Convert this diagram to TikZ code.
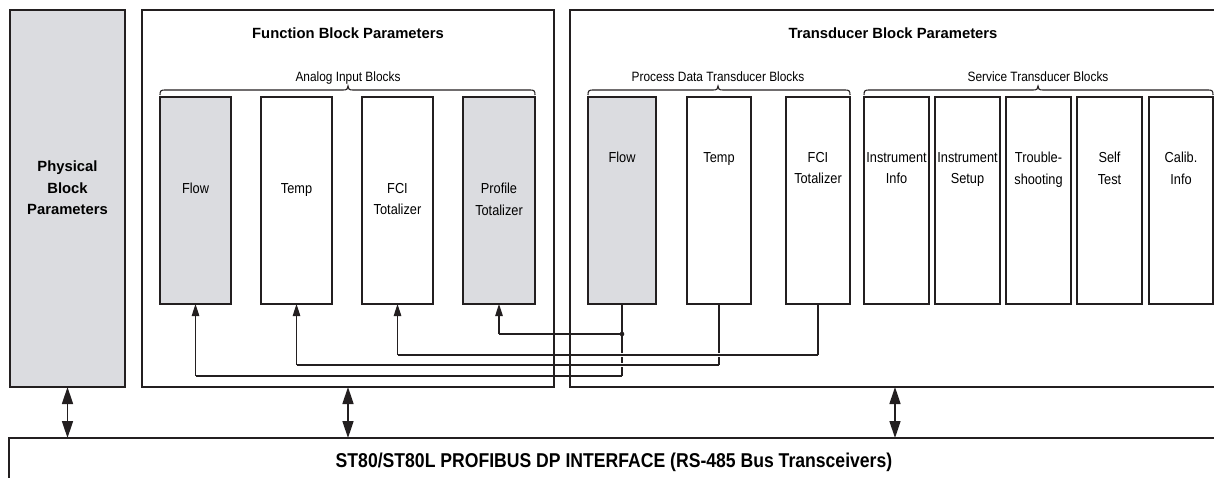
\documentclass[tikz,border=0pt]{standalone}
\usepackage{fontspec}
\setmainfont{Liberation Sans}
\newfontfamily\narrowfont{Liberation Sans}[FakeStretch=0.88]
\usetikzlibrary{arrows.meta,calc}
\definecolor{blockgray}{RGB}{219,220,224}
\definecolor{ink}{RGB}{35,31,32}
\newcommand{\tp}{\rule{0pt}{10pt}}
\newcommand{\hbrace}[3]{\draw[braceline] (#1,95) .. controls (#1,90.5) and (#1+1,90) .. (#1+5,90) -- (#2-5,90) .. controls (#2-1,90) and (#2,89) .. (#2,86) .. controls (#2,89) and (#2+1,90) .. (#2+5,90) -- (#3-5,90) .. controls (#3-1,90) and (#3,90.5) .. (#3,95);}
\begin{document}
\begin{tikzpicture}[x=1pt,y=-1pt,
  frame/.style={draw=ink, line width=1.5pt, inner sep=0pt, outer sep=0pt, anchor=north west, minimum height=#1},
  frame/.default=377pt,
  blk/.style={draw=ink, line width=1.5pt, inner sep=0pt, outer sep=0pt, anchor=north west, minimum height=207pt},
  gblk/.style={blk, fill=blockgray},
  edge/.style={draw=ink, line width=1.5pt},
  conn/.style={draw=ink, line width=1.1pt},
  gap/.style={preaction={draw=white, line width=4pt, shorten <=3pt, shorten >=3pt}},
  tip/.style={-{Triangle[length=12pt,width=7.5pt]}},
  dbl/.style={draw=ink, line width=1.5pt, {Triangle[length=17pt,width=11pt]}-{Triangle[length=17pt,width=11pt]}},
  braceline/.style={draw=ink, line width=1.1pt},
  title/.style={anchor=base, inner sep=0pt, font=\fontsize{14.8}{17}\selectfont\bfseries},
  head/.style={anchor=base, inner sep=0pt, font=\narrowfont\fontsize{13.5}{16}\selectfont},
  lbl/.style={anchor=north, inner sep=0pt, align=center, font=\narrowfont\fontsize{14.5}{21.5}\selectfont},
  plbl/.style={anchor=north, inner sep=0pt, align=center, font=\fontsize{14.8}{21.7}\selectfont\bfseries},
  buslbl/.style={anchor=base, inner sep=0pt, font=\narrowfont\fontsize{20}{22}\selectfont\bfseries}
]
\useasboundingbox (0,0) rectangle (1214,477);
\clip (0,0) rectangle (1214,477);

% outer frames
\node[frame, fill=blockgray, minimum width=115pt] (phys) at (10,10) {};
\node[frame, minimum width=412pt] (func) at (142,10) {};
\node[frame, minimum width=650pt] (trans) at (570,10) {};
\node[frame=70pt, minimum width=1211pt] (bus) at (9,438) {};

% titles
\node[title] (functitle) at (348,38) {Function Block Parameters};
\node[title] (transtitle) at (893,38) {Transducer Block Parameters};
\node[plbl] (physlbl) at (67.5,160.5) {\tp Physical\\Block\\Parameters};
\node[buslbl] (buslabel) at (614,467) {ST80/ST80L PROFIBUS DP INTERFACE (RS-485 Bus Transceivers)};

% group headers and braces
\node[head] (aihead) at (348,81) {Analog Input Blocks};
\node[head] (pdhead) at (718,81) {Process Data Transducer Blocks};
\node[head] (svhead) at (1038,81) {Service Transducer Blocks};
\hbrace{160}{348}{535}
\hbrace{588}{718}{850}
\hbrace{864}{1038}{1213}

% analog input blocks
\node[gblk, minimum width=71pt] (aflow) at (160,97) {};
\node[blk, minimum width=71pt] (atemp) at (261,97) {};
\node[blk, minimum width=71pt] (afci) at (362,97) {};
\node[gblk, minimum width=72pt] (aprof) at (463,97) {};
\node[lbl] (aflowl) at (aflow.north |- 0,183) {\tp Flow};
\node[lbl] (atempl) at (atemp.north |- 0,183) {\tp Temp};
\node[lbl] (afcil) at (afci.north |- 0,183) {\tp FCI\\Totalizer};
\node[lbl] (aprofl) at (aprof.north |- 0,183) {\tp Profile\\Totalizer};

% process data transducer blocks
\node[gblk, minimum width=68pt] (pflow) at (588,97) {};
\node[blk, minimum width=64pt] (ptemp) at (687,97) {};
\node[blk, minimum width=64pt] (pfci) at (786,97) {};
\node[lbl] (pflowl) at (pflow.north |- 0,152) {\tp Flow};
\node[lbl] (ptempl) at (ptemp.north |- 0,152) {\tp Temp};
\node[lbl] (pfcil) at (pfci.north |- 0,152) {\tp FCI\\Totalizer};

% service transducer blocks
\node[blk, minimum width=65pt] (sinfo) at (864,97) {};
\node[blk, minimum width=65pt] (ssetup) at (935,97) {};
\node[blk, minimum width=65pt] (strbl) at (1006,97) {};
\node[blk, minimum width=65pt] (sself) at (1077,97) {};
\node[blk, minimum width=64pt] (scalib) at (1149,97) {};
\node[lbl] (sinfol) at (sinfo.north |- 0,152) {\tp Instrument\\Info};
\node[lbl] (ssetupl) at (ssetup.north |- 0,152) {\tp Instrument\\Setup};
\node[lbl] (strbll) at (strbl.north |- 0,152) {\tp Trouble-\\shooting};
\node[lbl] (sselfl) at (sself.north |- 0,152) {\tp Self\\Test};
\node[lbl] (scalibl) at (scalib.north |- 0,152) {\tp Calib.\\Info};

% connectors: flow
\coordinate (fcorner) at ($(pflow.south)+(0,72)$);
\coordinate (jn) at ($(pflow.south)+(0,30)$);
\draw[conn] (pflow.south) -- (fcorner);
\draw[conn, gap] (fcorner) -- (fcorner -| aflow.south);
\draw[conn, tip] (fcorner -| aflow.south) -- (aflow.south);
\draw[conn, gap] (jn) -- (jn -| aprof.south);
\draw[conn, tip] (jn -| aprof.south) -- (aprof.south);
% temp
\coordinate (tcorner) at ($(ptemp.south)+(0,61)$);
\draw[conn] (ptemp.south) -- (tcorner);
\draw[conn, gap] (tcorner) -- (tcorner -| atemp.south);
\draw[conn, tip] (tcorner -| atemp.south) -- (atemp.south);
% fci
\coordinate (ccorner) at ($(pfci.south)+(0,51)$);
\draw[conn] (pfci.south) -- (ccorner);
\draw[conn, gap] (ccorner) -- (ccorner -| afci.south);
\draw[conn, tip] (ccorner -| afci.south) -- (afci.south);

% redraw frame edges crossed by connectors
\draw[edge] (func.north east) -- (func.south east);
\draw[edge] (trans.north west) -- (trans.south west);
\fill[ink] (jn) circle (2.3pt);

% bus arrows
\draw[dbl] (phys.south) -- (phys.south |- bus.north);
\draw[dbl] (func.south) -- (func.south |- bus.north);
\draw[dbl] (trans.south) -- (trans.south |- bus.north);
\end{tikzpicture}
\end{document}
